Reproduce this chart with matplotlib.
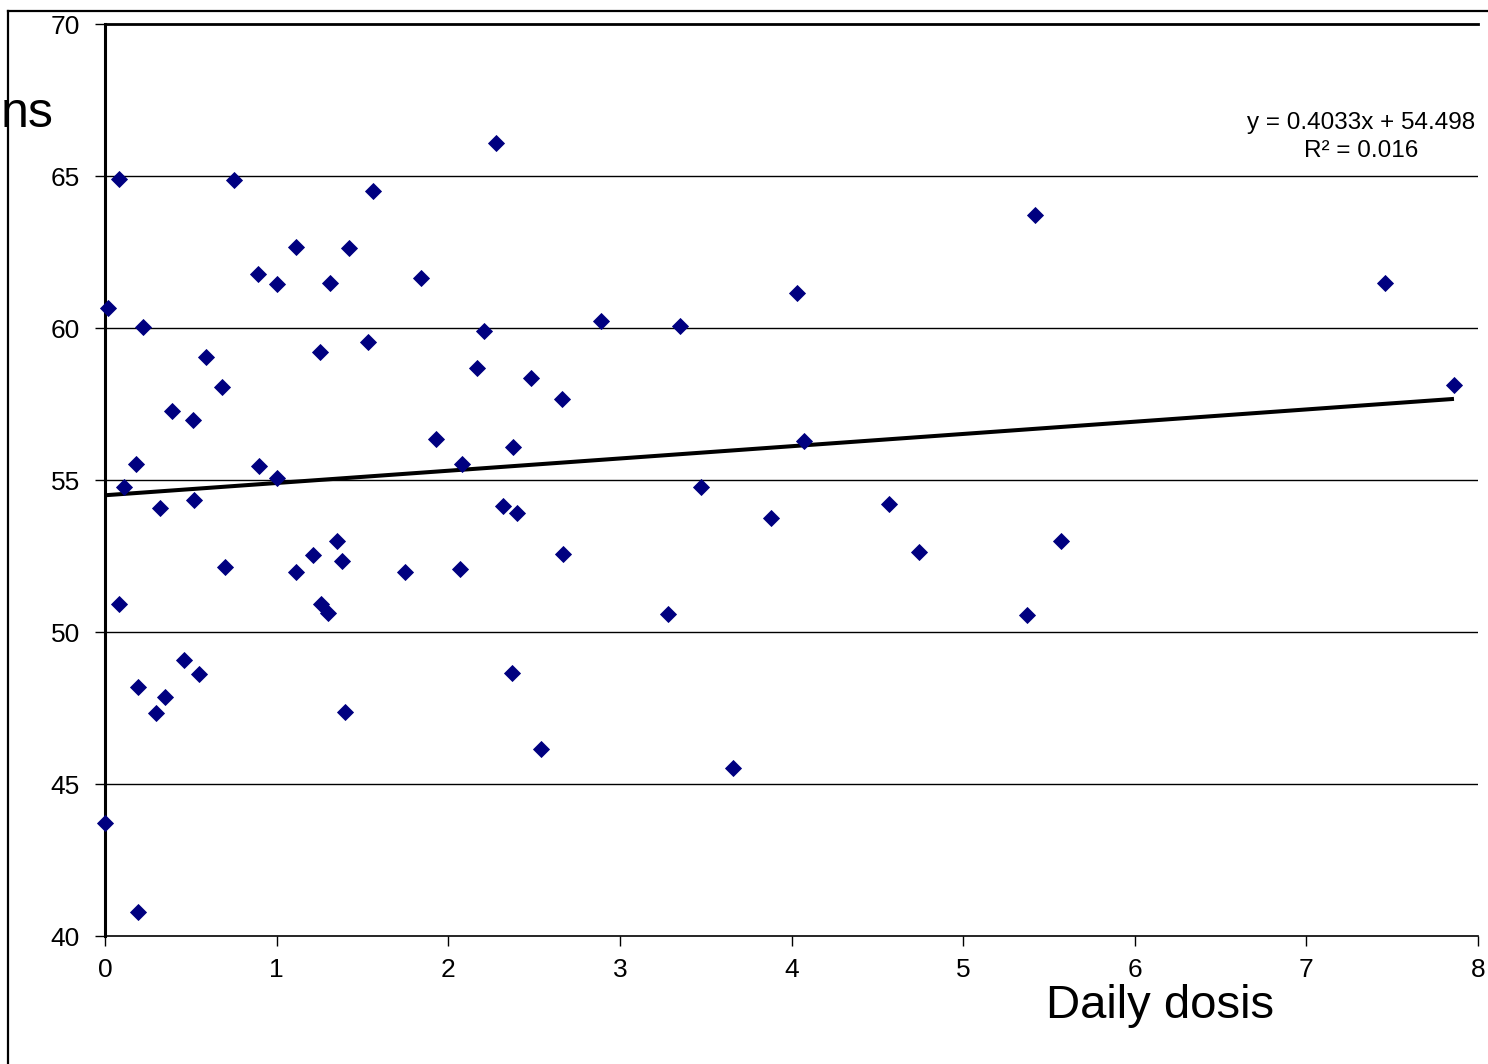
import matplotlib
matplotlib.use("Agg")
import matplotlib.pyplot as plt
from matplotlib.lines import Line2D

plt.rcParams['font.family'] = ['Liberation Sans', 'DejaVu Sans']

# Data (daily dose vs score)
dose = [0.02, 0.08, 0.11, 0.18, 0.22, 0.08, 0.19, 0.19, 0.00, 0.30,
        0.32, 0.35, 0.39, 0.46, 0.51, 0.52, 0.55, 0.59, 0.68, 0.70,
        0.75, 0.89, 0.90, 1.00, 1.00, 1.11, 1.11, 1.21, 1.25, 1.26,
        1.30, 1.31, 1.35, 1.38, 1.40, 1.42, 1.53, 1.56, 1.75, 1.84,
        1.93, 2.07, 2.08, 2.17, 2.21, 2.28, 2.32, 2.37, 2.38, 2.40,
        2.48, 2.54, 2.66, 2.67, 2.89, 3.28, 3.35, 3.47, 3.66, 3.88,
        4.03, 4.07, 4.57, 4.74, 5.37, 5.42, 5.57, 7.46, 7.86]
score = [60.66, 64.90, 54.78, 55.52, 60.02, 50.92, 48.18, 40.78, 43.72, 47.34,
         54.07, 47.86, 57.27, 49.07, 56.97, 54.33, 48.62, 59.04, 58.07, 52.14,
         64.86, 61.78, 55.46, 61.45, 55.06, 62.65, 51.97, 52.52, 59.20, 50.93,
         50.62, 61.48, 53.00, 52.35, 47.38, 62.62, 59.55, 64.52, 51.97, 61.66,
         56.35, 52.06, 55.52, 58.70, 59.90, 66.08, 54.16, 48.64, 56.10, 53.90,
         58.37, 46.15, 57.66, 52.56, 60.23, 50.59, 60.07, 54.77, 45.53, 53.75,
         61.15, 56.27, 54.21, 52.63, 50.56, 63.72, 52.99, 61.48, 58.13]

# Trendline (as reported on the chart)
slope = 0.4033
intercept = 54.498
r2 = 0.016

x_ticks = [0, 1, 2, 3, 4, 5, 6, 7, 8]
y_ticks = [40, 45, 50, 55, 60, 65, 70]

W, H = 1488, 1064
fig = plt.figure(figsize=(W / 100, H / 100), dpi=100)
fig.patch.set_facecolor('white')

ax = fig.add_axes([105 / W, 1 - 936 / H, (1478 - 105) / W, (936 - 24) / H])
ax.set_xlim(0, 8)
ax.set_ylim(40, 70)

for yv in y_ticks[1:-1]:
    ax.axhline(yv, color='black', lw=1.0, zorder=1)

ax.plot(dose, score, linestyle='none', marker='D', markersize=8.3,
        markerfacecolor='#000080', markeredgecolor='#000080',
        markeredgewidth=0.6, zorder=3, clip_on=False)

xs = [min(dose), max(dose)]
ax.plot(xs, [slope * v + intercept for v in xs], color='black', lw=2.9,
        solid_capstyle='butt', zorder=2)

ax.set_xticks(x_ticks)
ax.set_yticks(y_ticks)
ax.set_xticklabels([str(v) for v in x_ticks])
ax.set_yticklabels([str(v) for v in y_ticks])
ax.tick_params(axis='x', direction='out', length=7, width=1, labelsize=19, pad=9)
ax.tick_params(axis='y', direction='out', length=7, width=1, labelsize=19, pad=11)

ax.spines['right'].set_visible(False)
ax.spines['left'].set_linewidth(2.2)
ax.spines['top'].set_linewidth(2.0)
ax.spines['bottom'].set_linewidth(1.2)

fig.text(1361 / W, 1 - 137 / H, f'y = {slope}x + {intercept}\nR\u00b2 = {r2}',
         ha='center', va='center', fontsize=17.5, linespacing=1.35)

fig.text(1160 / W, 1 - 1006 / H, 'Daily dosis', ha='center', va='center',
         fontsize=34)
fig.text(1 / W, 1 - 114 / H, 'ns', ha='left', va='center', fontsize=36)

# outer frame
fig.add_artist(Line2D([8 / W, 1], [1 - 11 / H, 1 - 11 / H], color='black',
                      lw=1.6, transform=fig.transFigure))
fig.add_artist(Line2D([8 / W, 8 / W], [1 - 11 / H, 0], color='black',
                      lw=1.6, transform=fig.transFigure))

fig.savefig('out.png', dpi=100)
